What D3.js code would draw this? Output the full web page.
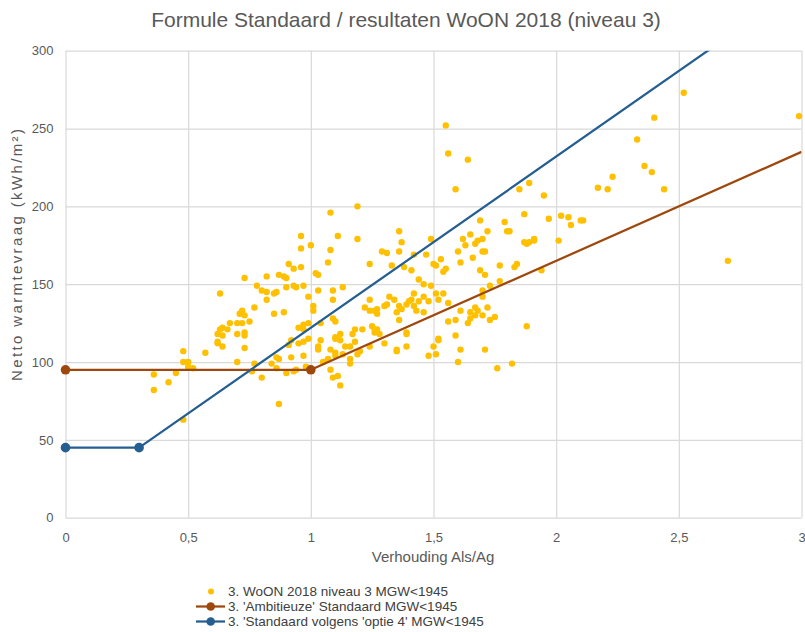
<!DOCTYPE html>
<html>
<head>
<meta charset="utf-8">
<script src="https://cdn.jsdelivr.net/npm/d3@7"></script>
<style>
  body { margin: 0; background: #ffffff; }
  text { font-family: "Liberation Sans", Arial, sans-serif; }
</style>
</head>
<body>
<svg id="chart" width="805" height="632"></svg>
<script>
// Axis ticks
const xTicks = [0, 0.5, 1, 1.5, 2, 2.5, 3];
const yTicks = [0, 50, 100, 150, 200, 250, 300];

// 'Ambitieuze' Standaard: flat 95 up to 1.0, then rising
const ambitieusX = [0, 1, 3];
const ambitieusY = [95, 95, 235];

// Standaard volgens 'optie 4': flat 45 up to 0.3, then rising
const optie4X = [0, 0.3, 3];
const optie4Y = [45, 45, 342];

// WoON 2018 niveau 3, MGW<1945: [Als/Ag, netto warmtevraag]
const woonPoints = [
  [0.63,144],[0.78,149],[0.80,146],[0.82,145],[0.82,140],[0.86,145],[0.85,144],[0.90,148],[0.93,149],[0.94,148],
  [0.97,149],[0.99,142],[0.77,135],[0.72,133],[0.71,131],[0.73,130],[0.85,131],[0.89,132],[0.67,125],[0.70,125],
  [0.72,125],[0.75,126],[0.64,122],[0.63,121],[0.66,121],[0.62,118],[0.64,117],[0.70,118],[0.73,119],[0.73,117],
  [0.62,113],[0.62,112],[0.64,110],[0.73,109],[0.57,106],[0.48,107],[0.48,100],[0.50,100],[0.50,97],[0.52,96],
  [0.36,92],[0.45,93],[0.36,82],[0.42,87],[0.70,100],[0.77,99],[0.76,94],[0.80,90],[0.84,99],[0.86,103],
  [0.87,102],[0.86,96],[0.87,73],[0.90,93],[0.93,94],[0.94,95],[0.98,97],[0.92,103],[0.97,104],[0.91,111],
  [0.92,114],[0.95,112],[0.97,113],[0.99,115],[0.95,122],[0.97,121],[0.97,124],[0.99,125],[0.48,63],
  [0.96,181],[0.96,173],[1.00,175],[0.91,163],[0.93,160],[0.96,161],[0.73,154],[0.82,155],[0.87,156],[0.89,155],[0.90,154],
  [1.19,200],[1.08,196],[1.11,181],[1.19,179],[1.08,172],[1.07,164],[1.02,157],[1.03,156],[1.03,146],[1.09,146],
  [1.13,148],[1.09,140],[1.01,136],[1.01,133],[1.04,125],[1.09,128],[1.10,126],[1.36,184],[1.37,177],[1.29,171],
  [1.31,170],[1.36,171],[1.24,163],[1.33,162],[1.38,161],[1.41,159],[1.42,169],[1.44,153],[1.46,150],[1.24,140],
  [1.32,142],[1.34,140],[1.22,135],[1.24,133],[1.26,133],[1.27,134],[1.27,131],[1.30,136],[1.31,137],[1.36,136],
  [1.37,134],[1.39,137],[1.40,139],[1.41,140],[1.42,144],[1.42,136],[1.43,133],[1.44,139],[1.46,142],[1.46,132],
  [1.36,127],[1.35,132],[1.21,121],[1.25,123],[1.26,119],[1.26,121],[1.27,121],[1.28,118],[1.18,121],[1.17,118],
  [1.24,110],[1.30,112],[1.35,108],[1.35,107],[1.39,119],[1.39,118],[1.39,110],[1.10,116],[1.12,118],[1.12,114],
  [1.10,115],[1.04,114],[1.03,110],[1.03,108],[1.08,108],[1.10,106],[1.10,104],[1.13,105],[1.16,110],[1.14,110],
  [1.18,113],[1.20,107],[1.19,105],[1.16,102],[1.16,99],[1.07,102],[1.05,100],[1.08,95],[1.09,90],[1.11,91],[1.12,85],
  [1.55,252],[1.56,234],[1.64,230],[1.59,211],[1.85,211],[1.89,215],[1.95,207],[1.87,195],[1.97,192],[1.69,191],
  [1.79,190],[1.80,184],[1.81,184],[1.72,184],[1.70,179],[1.68,178],[1.67,176],[1.65,182],[1.62,179],[1.63,175],
  [1.49,179],[1.60,171],[1.66,167],[1.70,171],[1.71,171],[1.61,164],[1.47,169],[1.53,166],[1.50,163],[1.51,162],
  [1.55,160],[1.54,158],[1.69,159],[1.71,156],[1.77,162],[1.83,161],[1.84,163],[1.87,177],[1.88,176],[1.89,177],
  [1.91,178],[1.91,179],[1.94,159],[1.77,152],[1.73,149],[1.70,146],[1.70,142],[1.49,149],[1.51,144],[1.54,144],
  [1.48,139],[1.52,140],[1.56,138],[1.61,133],[1.59,127],[1.56,126],[1.65,132],[1.67,135],[1.68,133],[1.67,130],
  [1.70,130],[1.72,135],[1.65,128],[1.64,125],[1.73,127],[1.75,129],[1.88,123],[1.59,117],[1.52,115],[1.52,114],
  [1.50,110],[1.48,104],[1.51,105],[1.61,108],[1.71,108],[1.60,100],[1.76,96],[1.82,99],
  [2.52,273],[2.99,258],[2.40,257],[2.33,243],[2.36,226],[2.39,222],[2.23,219],[2.17,212],[2.21,211],[2.44,211],
  [2.02,194],[2.05,193],[2.06,188],[2.10,191],[2.11,191],[2.01,178],[2.70,165]
];

const legendLabels = [
  "3. WoON 2018 niveau 3 MGW<1945",
  "3. 'Ambitieuze' Standaard MGW<1945",
  "3. 'Standaard volgens 'optie 4' MGW<1945"
];

const titleText = "Formule Standaard / resultaten WoON 2018 (niveau 3)";
const xTitle = "Verhouding Als/Ag";
const yTitle = "Netto warmtevraag (kWh/m²)";

const colors = { dots: "#ffc000", ambitieus: "#9e480e", optie4: "#255e91", grid: "#d9d9d9", text: "#595959" };

const svg = d3.select("#chart");
const plot = { left: 65.5, right: 801.5, top: 50.7, bottom: 517.7 };

const x = d3.scaleLinear().domain([0, 3]).range([plot.left, plot.right]);
const y = d3.scaleLinear().domain([0, 300]).range([plot.bottom, plot.top]);

const nl = d3.formatLocale({ decimal: ",", thousands: ".", grouping: [3], currency: ["€", ""] });
const fmt = nl.format("~g");

// Gridlines
svg.append("g")
  .attr("transform", `translate(0,${plot.bottom})`)
  .call(d3.axisBottom(x).tickValues(xTicks).tickSize(-(plot.bottom - plot.top)).tickFormat(""))
  .call(g => g.select(".domain").remove())
  .call(g => g.selectAll("line").attr("stroke", colors.grid).attr("stroke-width", 1.2));
svg.append("g")
  .attr("transform", `translate(${plot.left},0)`)
  .call(d3.axisLeft(y).tickValues(yTicks).tickSize(-(plot.right - plot.left)).tickFormat(""))
  .call(g => g.select(".domain").remove())
  .call(g => g.selectAll("line").attr("stroke", colors.grid).attr("stroke-width", 1.2));

// Tick labels
svg.append("g")
  .attr("transform", `translate(0,${plot.bottom})`)
  .call(d3.axisBottom(x).tickValues(xTicks).tickSize(0).tickPadding(15).tickFormat(fmt))
  .call(g => g.select(".domain").remove())
  .call(g => g.selectAll("text").attr("fill", colors.text).style("font-size", "13px").style("font-family", "Liberation Sans, Arial, sans-serif"));
svg.append("g")
  .attr("transform", `translate(${plot.left},0)`)
  .call(d3.axisLeft(y).tickValues(yTicks).tickSize(0).tickPadding(12).tickFormat(fmt))
  .call(g => g.select(".domain").remove())
  .call(g => g.selectAll("text").attr("fill", colors.text).style("font-size", "13px").style("font-family", "Liberation Sans, Arial, sans-serif"));

// Clip to plot area
svg.append("defs").append("clipPath").attr("id", "plotClip")
  .append("rect")
  .attr("x", plot.left).attr("y", plot.top)
  .attr("width", plot.right - plot.left).attr("height", plot.bottom - plot.top);

// Scatter points
svg.append("g")
  .selectAll("circle")
  .data(woonPoints)
  .join("circle")
  .attr("cx", d => x(d[0]))
  .attr("cy", d => y(d[1]))
  .attr("r", 3.2)
  .attr("fill", colors.dots);

// Standard lines
const line = d3.line().x(d => x(d[0])).y(d => y(d[1]));
function drawStandard(xs, ys, color) {
  const pts = xs.map((v, i) => [v, ys[i]]);
  const g = svg.append("g").attr("clip-path", "url(#plotClip)");
  g.append("path")
    .attr("d", line(pts))
    .attr("fill", "none")
    .attr("stroke", color)
    .attr("stroke-width", 2.25)
    .attr("stroke-linejoin", "round");
  svg.append("g")
    .selectAll("circle")
    .data(pts.slice(0, pts.length - 1))
    .join("circle")
    .attr("cx", d => x(d[0]))
    .attr("cy", d => y(d[1]))
    .attr("r", 4.8)
    .attr("fill", color);
}
drawStandard(ambitieusX, ambitieusY, colors.ambitieus);
drawStandard(optie4X, optie4Y, colors.optie4);

// Title and axis titles
svg.append("text")
  .attr("x", 406).attr("y", 27)
  .attr("text-anchor", "middle")
  .attr("fill", colors.text)
  .style("font-size", "21px")
  .text(titleText);
svg.append("text")
  .attr("x", 433).attr("y", 562)
  .attr("text-anchor", "middle")
  .attr("fill", colors.text)
  .style("font-size", "15px")
  .text(xTitle);
svg.append("text")
  .attr("transform", "translate(22,255) rotate(-90)")
  .attr("text-anchor", "middle")
  .attr("fill", colors.text)
  .attr("textLength", 252)
  .attr("lengthAdjust", "spacing")
  .style("font-size", "15px")
  .text(yTitle);

// Legend
const legend = svg.append("g");
const rows = [591.5, 606.5, 621.5];
const legendStyles = [
  { type: "dot", color: colors.dots },
  { type: "line", color: colors.ambitieus },
  { type: "line", color: colors.optie4 }
];
legendLabels.forEach((label, i) => {
  const cy = rows[i];
  const s = legendStyles[i];
  if (s.type === "line") {
    legend.append("line")
      .attr("x1", 196).attr("x2", 225).attr("y1", cy).attr("y2", cy)
      .attr("stroke", s.color).attr("stroke-width", 2.25);
    legend.append("circle").attr("cx", 210.7).attr("cy", cy).attr("r", 4.3).attr("fill", s.color);
  } else {
    legend.append("circle").attr("cx", 211).attr("cy", cy).attr("r", 3).attr("fill", s.color);
  }
  legend.append("text")
    .attr("x", 228).attr("y", cy + 4.8)
    .attr("fill", "#404040")
    .style("font-size", "13.5px")
    .text(label);
});
</script>
</body>
</html>
